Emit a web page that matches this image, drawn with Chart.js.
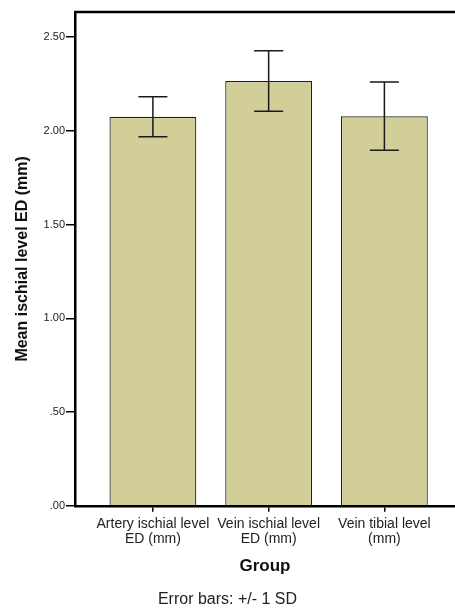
<!DOCTYPE html>
<html lang="en">
<head>
  <meta charset="UTF-8">
  <title>Mean ischial level ED</title>
  <script src="https://cdn.jsdelivr.net/npm/chart.js"></script>
  <style>
    html, body { margin: 0; padding: 0; background: #fff; overflow: hidden; }
    #wrap { width: 455px; height: 609px; }
  </style>
</head>
<body>
  <div id="wrap"><canvas id="edChart" width="455" height="609"></canvas></div>

  <script>
    // Groups on the x axis (two-line labels like the original)
    var groups = [
      ['Artery ischial level', 'ED (mm)'],
      ['Vein ischial level', 'ED (mm)'],
      ['Vein tibial level', '(mm)']
    ];
    // Mean ED per group and its standard deviation
    var means = [2.075, 2.266, 2.078];
    var sds = [0.107, 0.161, 0.182];
    // Y tick labels, SPSS style
    var yTickLabels = { 0: '.00', 0.5: '.50', 1: '1.00', 1.5: '1.50', 2: '2.00', 2.5: '2.50' };

    var barData = means.map(function(m, i) { return { x: i, y: m }; });

    // Error bars (+/- 1 SD) and the top frame line
    var errorBarPlugin = {
      id: 'errorBars',
      afterDatasetsDraw: function(chart) {
        var ctx = chart.ctx;
        var xs = chart.scales.x, ys = chart.scales.y;
        ctx.save();
        ctx.strokeStyle = '#1a1a1a';
        ctx.lineWidth = 1.5;
        for (var i = 0; i < means.length; i++) {
          var px = xs.getPixelForValue(i);
          var top = ys.getPixelForValue(means[i] + sds[i]);
          var bot = ys.getPixelForValue(means[i] - sds[i]);
          ctx.beginPath();
          ctx.moveTo(px, top); ctx.lineTo(px, bot);
          ctx.moveTo(px - 14.5, top); ctx.lineTo(px + 14.5, top);
          ctx.moveTo(px - 14.5, bot); ctx.lineTo(px + 14.5, bot);
          ctx.stroke();
        }
        var a = chart.chartArea;
        ctx.strokeStyle = '#000';
        ctx.lineWidth = 2.5;
        ctx.beginPath();
        ctx.moveTo(a.left - 1, a.top);
        ctx.lineTo(a.right, a.top);
        ctx.stroke();
        ctx.restore();
      }
    };

    var ctx = document.getElementById('edChart').getContext('2d');
    var chart = new Chart(ctx, {
      type: 'bar',
      data: {
        datasets: [{
          data: barData,
          backgroundColor: 'rgb(209, 206, 152)',
          borderColor: '#222',
          borderWidth: 1.2,
          barPercentage: 0.75,
          categoryPercentage: 1.0
        }]
      },
      plugins: [errorBarPlugin],
      options: {
        responsive: false,
        animation: false,
        layout: { padding: { top: 12, right: 0, left: 0, bottom: 0 } },
        plugins: {
          legend: { display: false },
          tooltip: { enabled: false },
          title: {
            display: true,
            position: 'bottom',
            text: 'Error bars: +/- 1 SD',
            color: '#222',
            font: { family: 'Liberation Sans', size: 16, weight: 'normal', lineHeight: 1.2 },
            padding: { top: 0, bottom: 0 }
          }
        },
        scales: {
          x: {
            type: 'linear',
            min: -0.673,
            max: 2.61,
            offset: false,
            afterFit: function(s) { s.height = 84; },
            afterBuildTicks: function(s) {
              s.ticks = [{ value: 0 }, { value: 1 }, { value: 2 }];
            },
            ticks: {
              color: '#222',
              font: { family: 'Liberation Sans', size: 14, lineHeight: 1.05 },
              padding: 5,
              maxRotation: 0,
              autoSkip: false,
              callback: function(v) { return groups[v]; }
            },
            grid: { offset: false, drawOnChartArea: false, color: '#000', tickLength: 6, lineWidth: 1.5 },
            border: { display: true, color: '#000', width: 2.5 },
            title: {
              display: true,
              text: 'Group',
              color: '#111',
              font: { family: 'Liberation Sans', size: 17, weight: 'bold', lineHeight: 1.2 },
              padding: { top: 0, bottom: 13 }
            }
          },
          y: {
            min: 0,
            max: 2.634,
            afterFit: function(s) { s.width = 75; },
            afterBuildTicks: function(s) {
              s.ticks = [0, 0.5, 1, 1.5, 2, 2.5].map(function(v) { return { value: v }; });
            },
            ticks: {
              color: '#222',
              font: { family: 'Liberation Sans', size: 11 },
              padding: 1,
              callback: function(v) { return yTickLabels[v]; }
            },
            grid: { drawOnChartArea: false, color: '#000', tickLength: 9, lineWidth: 1.5 },
            border: { display: true, color: '#000', width: 2.5 },
            title: {
              display: true,
              text: 'Mean ischial level ED (mm)',
              color: '#111',
              font: { family: 'Liberation Sans', size: 16, weight: 'bold', lineHeight: 1.2 },
              padding: { top: 13, bottom: 0 }
            }
          }
        }
      }
    });
  </script>
</body>
</html>
